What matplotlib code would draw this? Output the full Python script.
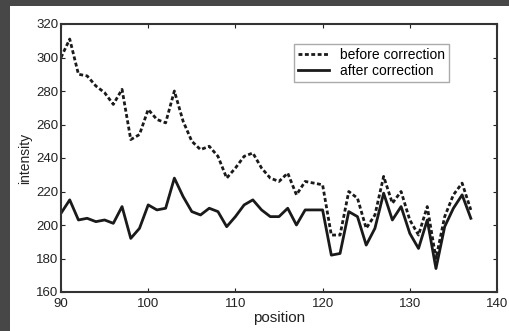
import matplotlib
matplotlib.use("Agg")
import matplotlib.pyplot as plt
from matplotlib.patches import Rectangle

position = list(range(90, 138))
before = [300, 311, 290, 289, 283, 279, 272, 281, 251, 254,
          269, 263, 261, 280, 262, 250, 245, 247, 241, 228,
          234, 241, 243, 234, 228, 226, 231, 218, 226, 225,
          224, 194, 194, 220, 216, 198, 206, 229, 213, 220,
          203, 194, 211, 180, 205, 218, 225, 209]
after = [207, 215, 203, 204, 202, 203, 201, 211, 192, 198,
         212, 209, 210, 228, 217, 208, 206, 210, 208, 199,
         205, 212, 215, 209, 205, 205, 210, 200, 209, 209,
         209, 182, 183, 208, 205, 188, 198, 219, 203, 211,
         195, 186, 203, 174, 199, 210, 218, 204]

xticks = [90, 100, 110, 120, 130, 140]
yticks = [160, 180, 200, 220, 240, 260, 280, 300, 320]


def main():
  plt.rcParams['font.family'] = ['Liberation Sans', 'DejaVu Sans']
  fig = plt.figure(figsize=(5.09, 3.31), dpi=100)
  fig.patch.set_facecolor('#474747')
  # white page area, dark strip only at left and top
  fig.patches.append(Rectangle((10 / 509, 0), 1, 1 - 6 / 331,
                               transform=fig.transFigure,
                               facecolor='white', edgecolor='none', zorder=-10))

  ax = fig.add_axes([61 / 509, 1 - 292 / 331, 436 / 509, 268 / 331])
  ax.plot(position, before, color='#1a1a1a', lw=2.0, ls=(0, (1.4, 0.9)),
          label='before correction')
  ax.plot(position, after, color='#1a1a1a', lw=2.0, label='after correction')

  ax.set_xlim(90, 140)
  ax.set_ylim(160, 320)
  ax.set_xticks(xticks)
  ax.set_yticks(yticks)
  ax.tick_params(direction='in', top=True, right=True, length=3,
                 labelsize=9.5, colors='#222222')
  ax.tick_params(axis='x', pad=4)
  ax.tick_params(axis='y', pad=2)
  for s in ax.spines.values():
    s.set_linewidth(1.5)
    s.set_color('#333333')

  ax.set_xlabel('position', fontsize=11, color='#222222', labelpad=1)
  ax.set_ylabel('intensity', fontsize=10, color='#222222', labelpad=3)

  leg = ax.legend(loc='upper left', bbox_to_anchor=(0.534, 0.925),
                  fontsize=10, fancybox=False, framealpha=1,
                  handlelength=2.2, handletextpad=0.8, borderpad=0.3,
                  labelspacing=0.1, borderaxespad=0)
  leg.get_frame().set_edgecolor('#aaaaaa')
  leg.get_frame().set_linewidth(1.0)

  fig.savefig('out.png', dpi=100, facecolor=fig.get_facecolor())


if __name__ == "__main__":
  main()
